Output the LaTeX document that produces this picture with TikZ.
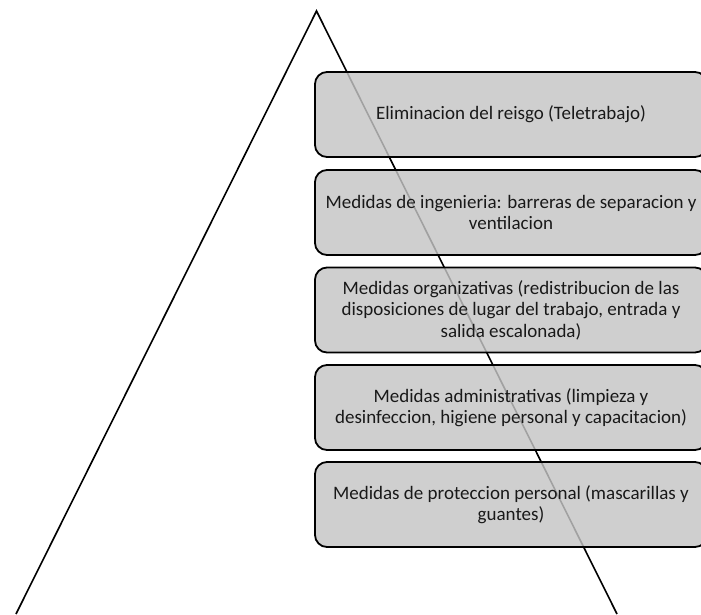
\documentclass[tikz,border=0pt]{standalone}
\usepackage{fontspec}
\setmainfont{Carlito}
\begin{document}
\begin{tikzpicture}[x=1pt,y=-1pt,
  side/.style={line width=1.6pt, line join=miter},
  level/.style={draw=black, line width=1.8pt, fill={rgb,255:red,197;green,197;blue,197}, fill opacity=0.82, draw opacity=1, text opacity=1,
    rounded corners=12pt, minimum width=392pt, minimum height=85pt, inner sep=1pt,
    align=center, font=\fontsize{19}{21.6}\selectfont, text=black!90}]
\useasboundingbox (0,0) rectangle (701,614);
\coordinate (bl) at (16,614);
\coordinate (apex) at (316.5,11);
\coordinate (br) at (617,614);
\draw[side] (bl) -- (apex) -- (br);
\node[level] (l1) at (511,114.5) {Eliminacion del reisgo (Teletrabajo)};
\node[level] (l2) at (511,212.5) {Medidas de ingenieria: barreras de separacion y\\ventilacion};
\node[level] (l3) at (511,310) {Medidas organizativas (redistribucion de las\\disposiciones de lugar del trabajo, entrada y\\salida escalonada)};
\node[level] (l4) at (511,407.5) {Medidas administrativas (limpieza y\\desinfeccion, higiene personal y capacitacion)};
\node[level] (l5) at (511,504.5) {Medidas de proteccion personal (mascarillas y\\guantes)};
\end{tikzpicture}
\end{document}
